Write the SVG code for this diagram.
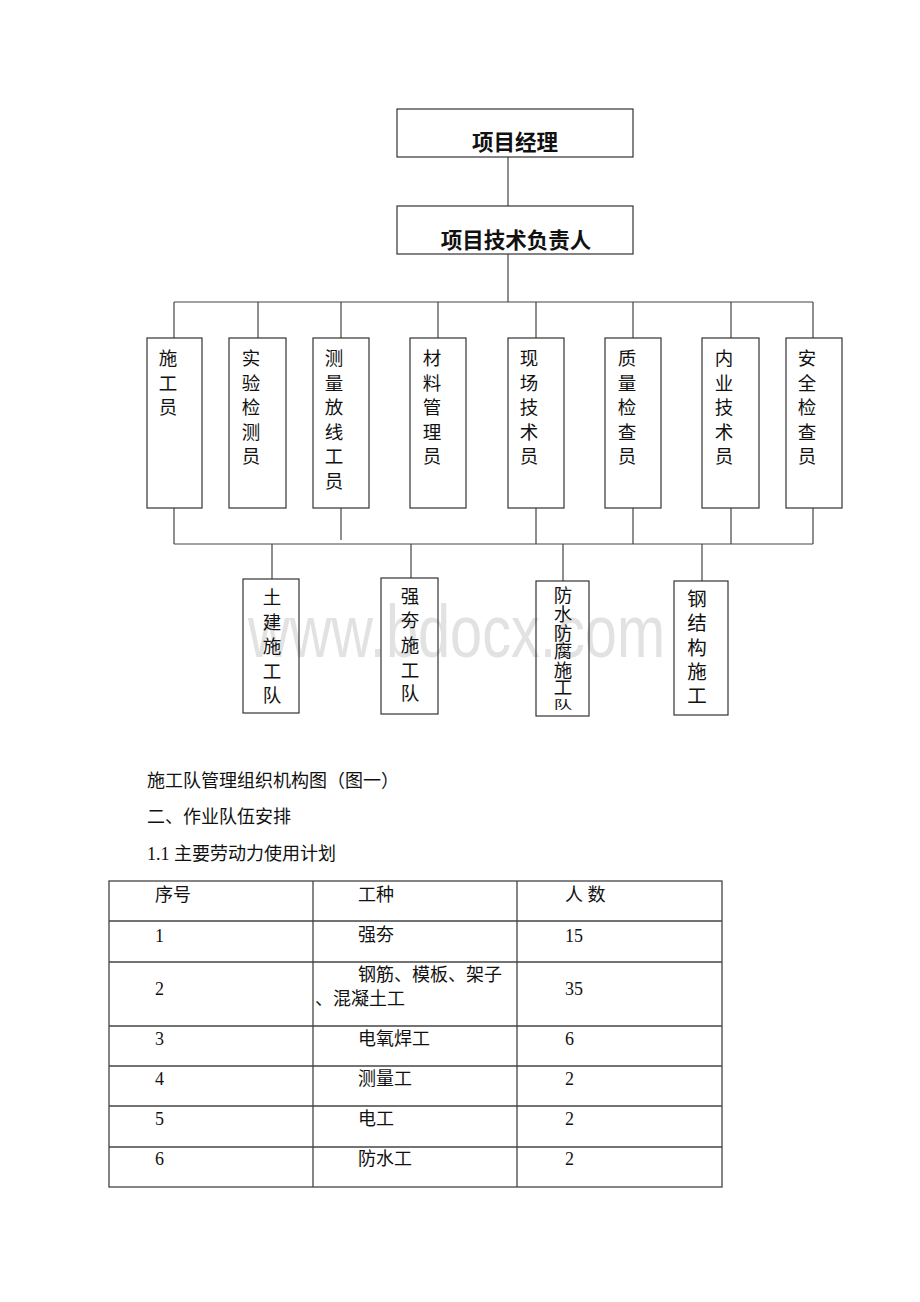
<svg xmlns="http://www.w3.org/2000/svg" width="920" height="1302" viewBox="0 0 920 1302">
<style>
.bx{fill:none;stroke:#333;stroke-width:1.2}
.ln{fill:none;stroke:#444;stroke-width:1.2}
.tb{fill:none;stroke:#444;stroke-width:1.3}
.tt{font-family:"Noto Sans CJK SC",sans-serif;font-weight:bold;font-size:21.5px;fill:#111;text-anchor:middle;dominant-baseline:central}
.vt{font-family:"Liberation Serif","Noto Sans CJK SC",serif;font-size:18.5px;fill:#111;text-anchor:middle;dominant-baseline:central}
.bt{font-family:"Liberation Serif","Noto Sans CJK SC",serif;font-size:18px;fill:#111}
.wm{font-family:"Liberation Sans",sans-serif;font-size:58px;fill:#e2e2e2}
</style>
<rect width="920" height="1302" fill="#fff"/>

<g id="watermark"><text class="wm" transform="translate(248,657) scale(1,1.28)" textLength="417" lengthAdjust="spacingAndGlyphs">www.bdocx.com</text></g>

<g id="connectors">
<line class="ln" x1="508" y1="157" x2="508" y2="206"/>
<line class="ln" x1="508" y1="254" x2="508" y2="302"/>
<line class="ln" x1="174" y1="302" x2="813" y2="302"/>
<line class="ln" x1="174" y1="302" x2="174" y2="338"/>
<line class="ln" x1="258" y1="302" x2="258" y2="338"/>
<line class="ln" x1="341" y1="302" x2="341" y2="338"/>
<line class="ln" x1="438" y1="302" x2="438" y2="338"/>
<line class="ln" x1="536" y1="302" x2="536" y2="338"/>
<line class="ln" x1="633" y1="302" x2="633" y2="338"/>
<line class="ln" x1="731" y1="302" x2="731" y2="338"/>
<line class="ln" x1="813" y1="302" x2="813" y2="338"/>
<line class="ln" x1="174" y1="508" x2="174" y2="544"/>
<line class="ln" x1="341" y1="508" x2="341" y2="540"/>
<line class="ln" x1="536" y1="508" x2="536" y2="544"/>
<line class="ln" x1="633" y1="508" x2="633" y2="544"/>
<line class="ln" x1="731" y1="508" x2="731" y2="544"/>
<line class="ln" x1="813" y1="508" x2="813" y2="544"/>
<line class="ln" x1="174" y1="544" x2="813" y2="544"/>
<line class="ln" x1="272" y1="544" x2="272" y2="579"/>
<line class="ln" x1="411" y1="544" x2="411" y2="578"/>
<line class="ln" x1="563" y1="544" x2="563" y2="581"/>
<line class="ln" x1="702" y1="544" x2="702" y2="581"/>
</g>

<g id="n-pm"><rect class="bx" x="397" y="109" width="236" height="48"/><text class="tt" x="515" y="140">项目经理</text></g>
<g id="n-tech"><rect class="bx" x="397" y="206" width="236" height="48"/><text class="tt" x="516" y="238">项目技术负责人</text></g>

<g id="n1"><rect class="bx" x="147" y="338" width="55" height="170"/><text class="vt"><tspan x="168" y="359">施</tspan><tspan x="168" y="383.5">工</tspan><tspan x="168" y="408">员</tspan></text></g>
<g id="n2"><rect class="bx" x="229" y="338" width="57" height="170"/><text class="vt"><tspan x="251" y="359">实</tspan><tspan x="251" y="383.5">验</tspan><tspan x="251" y="408">检</tspan><tspan x="251" y="432.5">测</tspan><tspan x="251" y="457">员</tspan></text></g>
<g id="n3"><rect class="bx" x="313" y="338" width="56" height="170"/><text class="vt"><tspan x="334" y="359">测</tspan><tspan x="334" y="383.5">量</tspan><tspan x="334" y="408">放</tspan><tspan x="334" y="432.5">线</tspan><tspan x="334" y="457">工</tspan><tspan x="334" y="481.5">员</tspan></text></g>
<g id="n4"><rect class="bx" x="410" y="338" width="56" height="170"/><text class="vt"><tspan x="432" y="359">材</tspan><tspan x="432" y="383.5">料</tspan><tspan x="432" y="408">管</tspan><tspan x="432" y="432.5">理</tspan><tspan x="432" y="457">员</tspan></text></g>
<g id="n5"><rect class="bx" x="508" y="338" width="56" height="170"/><text class="vt"><tspan x="529" y="359">现</tspan><tspan x="529" y="383.5">场</tspan><tspan x="529" y="408">技</tspan><tspan x="529" y="432.5">术</tspan><tspan x="529" y="457">员</tspan></text></g>
<g id="n6"><rect class="bx" x="605" y="338" width="56" height="170"/><text class="vt"><tspan x="627" y="359">质</tspan><tspan x="627" y="383.5">量</tspan><tspan x="627" y="408">检</tspan><tspan x="627" y="432.5">查</tspan><tspan x="627" y="457">员</tspan></text></g>
<g id="n7"><rect class="bx" x="702" y="338" width="57" height="170"/><text class="vt"><tspan x="724" y="359">内</tspan><tspan x="724" y="383.5">业</tspan><tspan x="724" y="408">技</tspan><tspan x="724" y="432.5">术</tspan><tspan x="724" y="457">员</tspan></text></g>
<g id="n8"><rect class="bx" x="786" y="338" width="56" height="170"/><text class="vt"><tspan x="807" y="359">安</tspan><tspan x="807" y="383.5">全</tspan><tspan x="807" y="408">检</tspan><tspan x="807" y="432.5">查</tspan><tspan x="807" y="457">员</tspan></text></g>

<g id="t1"><rect class="bx" x="243" y="579" width="56" height="134"/><text class="vt"><tspan x="272" y="598">土</tspan><tspan x="272" y="622.5">建</tspan><tspan x="272" y="647">施</tspan><tspan x="272" y="671.5">工</tspan><tspan x="272" y="696">队</tspan></text></g>
<g id="t2"><rect class="bx" x="381" y="578" width="57" height="136"/><text class="vt"><tspan x="410" y="596.5">强</tspan><tspan x="410" y="620.5">夯</tspan><tspan x="410" y="646">施</tspan><tspan x="410" y="671">工</tspan><tspan x="410" y="694">队</tspan></text></g>
<g id="t3"><rect class="bx" x="536" y="581" width="53" height="135"/><text class="vt"><tspan x="563" y="596">防</tspan><tspan x="563" y="615">水</tspan><tspan x="563" y="633.5">防</tspan><tspan x="563" y="652">腐</tspan><tspan x="563" y="670.5">施</tspan><tspan x="563" y="688">工</tspan></text><text class="vt" transform="translate(563,705) scale(1,0.6)" x="0" y="0">队</text></g>
<g id="t4"><rect class="bx" x="674" y="581" width="54" height="134"/><text class="vt" style="font-size:19.5px"><tspan x="697" y="599">钢</tspan><tspan x="697" y="623">结</tspan><tspan x="697" y="647.5">构</tspan><tspan x="697" y="671.5">施</tspan><tspan x="697" y="695.5">工</tspan></text></g>

<g id="body-text">
<text class="bt" x="147" y="787">施工队管理组织机构图（图一）</text>
<text class="bt" x="147" y="823">二、作业队伍安排</text>
<text class="bt" x="147" y="860">1.1 主要劳动力使用计划</text>
</g>

<g id="table">
<rect class="tb" x="109" y="881" width="613" height="306"/>
<line class="tb" x1="313" y1="881" x2="313" y2="1187"/>
<line class="tb" x1="517" y1="881" x2="517" y2="1187"/>
<line class="tb" x1="109" y1="921" x2="722" y2="921"/>
<line class="tb" x1="109" y1="962" x2="722" y2="962"/>
<line class="tb" x1="109" y1="1026" x2="722" y2="1026"/>
<line class="tb" x1="109" y1="1066" x2="722" y2="1066"/>
<line class="tb" x1="109" y1="1106" x2="722" y2="1106"/>
<line class="tb" x1="109" y1="1147" x2="722" y2="1147"/>
<text class="bt" x="155" y="901">序号</text>
<text class="bt" x="358" y="901">工种</text>
<text class="bt" x="565" y="901">人 数</text>
<text class="bt" x="155" y="942">1</text>
<text class="bt" x="358" y="941">强夯</text>
<text class="bt" x="565" y="942">15</text>
<text class="bt" x="155" y="995">2</text>
<text class="bt" x="358" y="981">钢筋、模板、架子</text>
<text class="bt" x="315" y="1005">、混凝土工</text>
<text class="bt" x="565" y="995">35</text>
<text class="bt" x="155" y="1045">3</text>
<text class="bt" x="358" y="1045">电氧焊工</text>
<text class="bt" x="565" y="1045">6</text>
<text class="bt" x="155" y="1085">4</text>
<text class="bt" x="358" y="1085">测量工</text>
<text class="bt" x="565" y="1085">2</text>
<text class="bt" x="155" y="1125">5</text>
<text class="bt" x="358" y="1125">电工</text>
<text class="bt" x="565" y="1125">2</text>
<text class="bt" x="155" y="1165">6</text>
<text class="bt" x="358" y="1165">防水工</text>
<text class="bt" x="565" y="1165">2</text>
</g>
</svg>
